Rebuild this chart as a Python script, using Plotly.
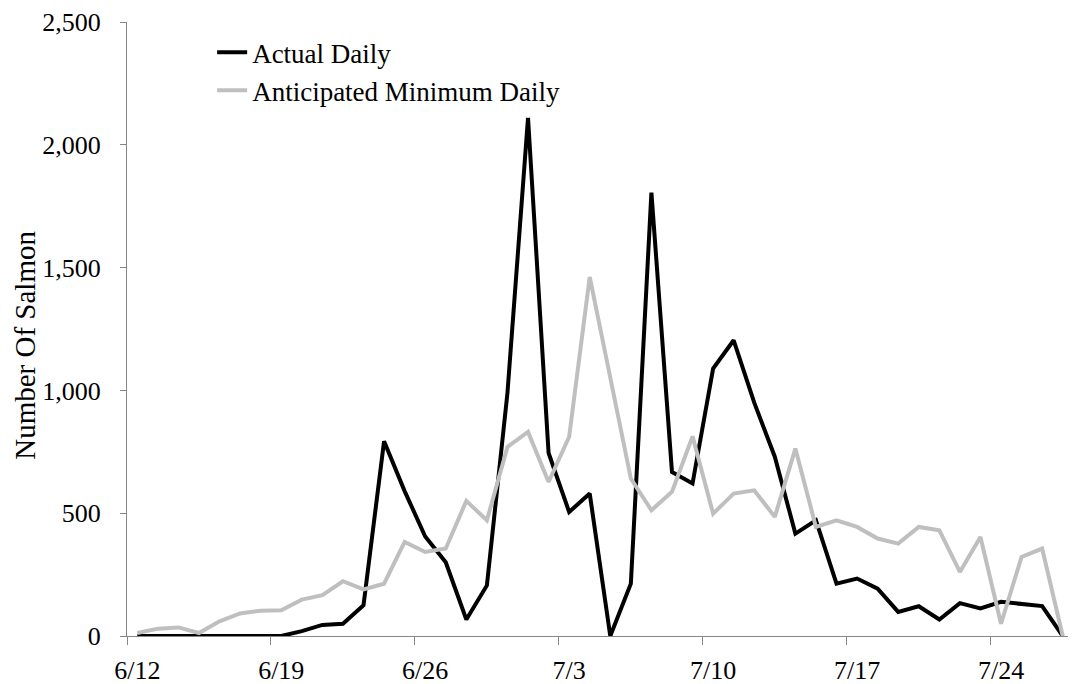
import plotly.graph_objects as go

dates = ["6/12", "6/13", "6/14", "6/15", "6/16", "6/17", "6/18", "6/19", "6/20", "6/21",
         "6/22", "6/23", "6/24", "6/25", "6/26", "6/27", "6/28", "6/29", "6/30", "7/1",
         "7/2", "7/3", "7/4", "7/5", "7/6", "7/7", "7/8", "7/9", "7/10", "7/11",
         "7/12", "7/13", "7/14", "7/15", "7/16", "7/17", "7/18", "7/19", "7/20", "7/21",
         "7/22", "7/23", "7/24", "7/25", "7/26", "7/27"]

actual_daily = [0, 0, 0, 0, 0, 0, 0, 0, 20, 45,
                50, 125, 793, 590, 405, 300, 67, 206, 990, 2110,
                745, 505, 580, 0, 213, 1805, 668, 621, 1089, 1204,
                950, 730, 417, 471, 213, 234, 193, 98, 121, 67,
                134, 112, 139, 129, 122, 0]

anticipated_min_daily = [12, 30, 35, 12, 60, 92, 103, 105, 148, 166,
                         223, 190, 213, 383, 342, 356, 550, 471, 770, 831,
                         627, 811, 1462, 1050, 641, 512, 587, 813, 498, 580,
                         593, 485, 763, 444, 471, 444, 397, 376, 444, 430,
                         261, 403, 50, 322, 356, 0]

y_ticks = [0, 500, 1000, 1500, 2000, 2500]
y_tick_labels = ["0", "500", "1,000", "1,500", "2,000", "2,500"]

FONT = "Liberation Serif, Times New Roman, serif"
AXIS_GRAY = "#868686"

fig = go.Figure()
fig.add_trace(go.Scatter(x=dates, y=actual_daily, mode="lines", name="Actual Daily",
                         legendgroup="a",
                         line=dict(color="#000000", width=4)))
fig.add_trace(go.Scatter(x=dates, y=anticipated_min_daily, mode="lines",
                         name="Anticipated Minimum Daily", legendgroup="b",
                         line=dict(color="#BFBFBF", width=4)))

# page body has an 8px default margin, so the figure is sized to fit the window
fig.update_layout(
    width=1068, height=676,
    margin=dict(l=119, r=3, t=14, b=48, autoexpand=False),
    paper_bgcolor="white", plot_bgcolor="white",
    font=dict(family=FONT, size=26, color="#000000"),
    showlegend=True,
    legend=dict(x=0.09, y=0.99, xanchor="left", yanchor="top",
                bgcolor="rgba(0,0,0,0)", borderwidth=0,
                font=dict(family=FONT, size=27, color="#000000"),
                traceorder="grouped", tracegroupgap=0, itemwidth=30),
    annotations=[dict(text="Number Of Salmon", textangle=-90,
                      xref="paper", yref="paper", x=-0.108, y=0.474,
                      xanchor="center", yanchor="middle", showarrow=False,
                      font=dict(family=FONT, size=29, color="#000000"))],
)

fig.update_xaxes(
    type="category",
    range=[-0.5, 45.5],
    tickmode="linear", tick0=0, dtick=7,
    tickson="boundaries",
    tickangle=0,
    automargin=False,
    ticks="outside", ticklen=8, tickwidth=1, tickcolor=AXIS_GRAY,
    showline=True, linecolor=AXIS_GRAY, linewidth=1,
    showgrid=False, zeroline=False,
    tickfont=dict(family=FONT, size=26, color="#000000"),
    ticklabelstandoff=11,
)

fig.update_yaxes(
    range=[0, 2500],
    automargin=False,
    tickmode="array", tickvals=y_ticks, ticktext=y_tick_labels,
    ticks="outside", ticklen=6, tickwidth=1, tickcolor=AXIS_GRAY,
    showline=True, linecolor=AXIS_GRAY, linewidth=1,
    showgrid=False, zeroline=False,
    tickfont=dict(family=FONT, size=26, color="#000000"),
    ticklabelstandoff=14,
)

fig.write_html("out.html")
